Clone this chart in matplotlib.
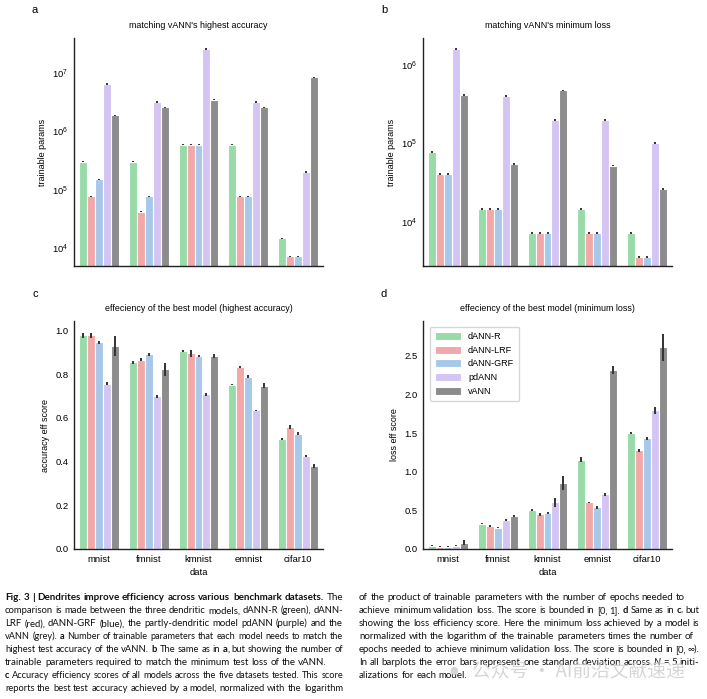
import matplotlib.pyplot as plt
import numpy as np

plt.rcParams["font.family"] = ["Liberation Sans", "DejaVu Sans"]
plt.rcParams["font.size"] = 6.5

datasets = ['mnist', 'fmnist', 'kmnist', 'emnist', 'cifar10']
models = ['dANN-R', 'dANN-LRF', 'dANN-GRF', 'pdANN', 'vANN']
colors = ['#98dba8', '#f2a8a8', '#a8c8ea', '#d4c4f4', '#8c8c8c']

# a: trainable params to match highest accuracy (rows = models, cols = datasets)
params_acc = np.array([
    [3.0e5, 3.0e5, 5.9e5, 5.9e5, 1.47e4],
    [7.7e4, 4.2e4, 5.9e5, 7.7e4, 7.2e3],
    [1.5e5, 7.7e4, 5.9e5, 7.7e4, 7.2e3],
    [6.5e6, 3.2e6, 2.6e7, 3.2e6, 2.0e5],
    [1.9e6, 2.6e6, 3.5e6, 2.6e6, 8.5e6],
])

# b: trainable params to match minimum loss
params_loss = np.array([
    [7.7e4, 1.45e4, 7.2e3, 1.45e4, 7.2e3],
    [4.1e4, 1.45e4, 7.2e3, 7.2e3, 3.6e3],
    [4.1e4, 1.45e4, 7.2e3, 7.2e3, 3.6e3],
    [1.6e6, 4.0e5, 2.0e5, 2.0e5, 1.0e5],
    [4.1e5, 5.4e4, 4.7e5, 5.2e4, 2.6e4],
])

# c: accuracy efficiency score
acc_eff = np.array([
    [0.977, 0.854, 0.904, 0.752, 0.505],
    [0.977, 0.866, 0.895, 0.832, 0.558],
    [0.945, 0.890, 0.883, 0.788, 0.527],
    [0.756, 0.698, 0.707, 0.634, 0.427],
    [0.928, 0.822, 0.883, 0.747, 0.381],
])
acc_eff_err = np.array([
    [0.010, 0.008, 0.005, 0.004, 0.005],
    [0.010, 0.008, 0.015, 0.004, 0.008],
    [0.007, 0.008, 0.006, 0.007, 0.006],
    [0.006, 0.006, 0.008, 0.004, 0.004],
    [0.045, 0.030, 0.007, 0.012, 0.010],
])

# d: loss efficiency score
loss_eff = np.array([
    [0.043, 0.328, 0.500, 1.155, 1.504],
    [0.030, 0.297, 0.448, 0.603, 1.276],
    [0.030, 0.276, 0.461, 0.539, 1.431],
    [0.043, 0.370, 0.603, 0.707, 1.793],
    [0.082, 0.430, 0.849, 2.319, 2.608],
])
loss_eff_err = np.array([
    [0.010, 0.010, 0.012, 0.030, 0.015],
    [0.008, 0.010, 0.015, 0.010, 0.020],
    [0.008, 0.010, 0.012, 0.015, 0.020],
    [0.010, 0.012, 0.060, 0.015, 0.040],
    [0.030, 0.015, 0.090, 0.050, 0.180],
])

W, H = 707, 699
fig = plt.figure(figsize=(W / 100, H / 100), dpi=100)


def px_axes(x0, y0, x1, y1):
    return fig.add_axes([x0 / W, 1 - y1 / H, (x1 - x0) / W, (y1 - y0) / H])


def bars(ax, vals, errs, log=False):
    n = len(models)
    w = 0.8 / n
    x = np.arange(len(datasets))
    for i in range(n):
        xi = x - 0.4 + w * (i + 0.5)
        ax.bar(xi, vals[i], width=w, color=colors[i], edgecolor='white',
               linewidth=0.8, label=models[i], zorder=2)
        ax.errorbar(xi, vals[i], yerr=errs[i], fmt='none', ecolor='#333333',
                    elinewidth=1.4, capsize=0, zorder=3)
    ax.set_xlim(-0.5, len(datasets) - 0.5)
    for s in ['top', 'right']:
        ax.spines[s].set_visible(False)
    for s in ['left', 'bottom']:
        ax.spines[s].set_color('#222222')
        ax.spines[s].set_linewidth(1.0)
    ax.tick_params(length=0, pad=4, labelsize=6.8)
    if log:
        ax.set_yscale('log')
        ax.minorticks_off()


ax_a = px_axes(74, 38, 323, 266)
bars(ax_a, params_acc, params_acc * 0.025, log=True)
ax_a.set_ylim(4900, 4.0e7)
ax_a.set_xticks([])
ax_a.set_title("matching vANN's highest accuracy", fontsize=6.4, pad=7)
ax_a.set_ylabel('trainable params', fontsize=6.5)

ax_b = px_axes(423, 38, 672, 266)
bars(ax_b, params_loss, params_loss * 0.025, log=True)
ax_b.set_ylim(2740, 2.19e6)
ax_b.set_xticks([])
ax_b.set_title("matching vANN's minimum loss", fontsize=6.4, pad=7)
ax_b.set_ylabel('trainable params', fontsize=6.5)

ax_c = px_axes(74, 321, 323, 549)
bars(ax_c, acc_eff, acc_eff_err)
ax_c.set_ylim(0, 1.043)
ax_c.set_xticks(np.arange(len(datasets)), datasets)
ax_c.set_title('effeciency of the best model (highest accuracy)', fontsize=6.4, pad=7)
ax_c.set_ylabel('accuracy eff score', fontsize=6.5)
ax_c.set_xlabel('data', fontsize=6.8, labelpad=3)

ax_d = px_axes(423, 321, 672, 549)
bars(ax_d, loss_eff, loss_eff_err)
ax_d.set_ylim(0, 2.95)
ax_d.set_xticks(np.arange(len(datasets)), datasets)
ax_d.set_title('effeciency of the best model (minimum loss)', fontsize=6.4, pad=7)
ax_d.set_ylabel('loss eff score', fontsize=6.5)
ax_d.set_xlabel('data', fontsize=6.8, labelpad=3)
ax_d.legend(loc='upper left', fontsize=6.5, frameon=True, fancybox=True,
            edgecolor='#cccccc', handlelength=2.8, handleheight=1.0,
            labelspacing=0.5, borderpad=0.6, bbox_to_anchor=(0.01, 0.995))

for lab, x, y in [('a', 35, 10), ('b', 384, 10), ('c', 35, 294), ('d', 384, 294)]:
    fig.text(x / W, 1 - y / H, lab, fontsize=8, va='center', ha='center')

# caption, (text, style) pieces per line; flag = justify the line
cap_left = [
    ([('Fig. 3 | Dendrites improve efficiency across various benchmark datasets.', 'b'), (' The', 'n')], True),
    ([('comparison is made between the three dendritic models, dANN-R (green), dANN-', 'n')], True),
    ([('LRF (red), dANN-GRF (blue), the partly-dendritic model pdANN (purple) and the', 'n')], True),
    ([('vANN (grey). ', 'n'), ('a', 'b'), (' Number of trainable parameters that each model needs to match the', 'n')], True),
    ([('highest test accuracy of the vANN. ', 'n'), ('b', 'b'), (' The same as in ', 'n'), ('a', 'b'), (', but showing the number of', 'n')], True),
    ([('trainable parameters required to match the minimum test loss of the vANN.', 'n')], False),
    ([('c', 'b'), (' Accuracy efficiency scores of all models across the five datasets tested. This score', 'n')], True),
    ([('reports the best test accuracy achieved by a model, normalized with the logarithm', 'n')], True),
]
cap_right = [
    ([('of the product of trainable parameters with the number of epochs needed to', 'n')], False),
    ([('achieve minimum validation loss. The score is bounded in [0, 1]. ', 'n'), ('d', 'b'), (' Same as in ', 'n'), ('c', 'b'), (', but', 'n')], True),
    ([('showing the loss efficiency score. Here the minimum loss achieved by a model is', 'n')], True),
    ([('normalized with the logarithm of the trainable parameters times the number of', 'n')], False),
    ([('epochs needed to achieve minimum validation loss. The score is bounded in [0, \u221e).', 'n')], True),
    ([('In all barplots the error bars represent one standard deviation across ', 'n'), ('N', 'i'), (' = 5 initi-', 'n')], True),
    ([('alizations for each model.', 'n')], False),
]

fig.canvas.draw()
renderer = fig.canvas.get_renderer()
CAP_FS = 7.0


def cap_text(s, style, fs):
    return fig.text(0, 0, s, fontsize=fs, va='baseline', ha='left',
                    family=['Lato', 'DejaVu Sans'],
                    fontweight='bold' if style == 'b' else 'normal',
                    fontstyle='italic' if style == 'i' else 'normal',
                    color='#111111')


def width(t):
    return t.get_window_extent(renderer).width


def draw_caption(lines, x0, y0, dy, target):
    for k, (segs, justify) in enumerate(lines):
        words, cur = [], []
        for txt, style in segs:
            parts = txt.split(' ')
            for j, p in enumerate(parts):
                if j > 0 and cur:
                    words.append(cur)
                    cur = []
                if p:
                    cur.append((p, style))
        if cur:
            words.append(cur)

        def layout(fs):
            placed, total = [], 0
            for wd in words:
                items = []
                for p, style in wd:
                    t = cap_text(p, style, fs)
                    wp = width(t)
                    items.append((t, wp))
                    total += wp
                placed.append(items)
            t1, t2 = cap_text('x x', 'n', fs), cap_text('xx', 'n', fs)
            sw = width(t1) - width(t2)
            t1.remove()
            t2.remove()
            return placed, total, sw

        placed, total, sw = layout(CAP_FS)
        gaps = len(placed) - 1
        natural = total + gaps * sw
        fs = CAP_FS
        if justify:
            fs = CAP_FS * min(1.06, target / natural)
        elif natural > target:
            fs = CAP_FS * target / natural
        if fs != CAP_FS:
            for items in placed:
                for t, _ in items:
                    t.remove()
            placed, total, sw = layout(fs)
            natural = total + gaps * sw
        gap = sw
        if justify and gaps > 0 and natural < target:
            gap = sw + (target - natural) / gaps
        x = x0
        y = 1 - (y0 + k * dy + 3) / H
        for items in placed:
            for t, wp in items:
                t.set_position((x / W, y))
                x += wp
            x += gap


draw_caption(cap_left, 5, 597.5, 12.95, 338)
draw_caption(cap_right, 359, 597, 12.95, 340)

fig.text(448 / W, 1 - 671 / H, '\u25cf', fontsize=13, color='#d5d5d5', va='center', ha='left')
fig.text(472 / W, 1 - 671 / H, '公众号 · AI前沿文献速递', fontsize=13.5, color='#cccccc',
         alpha=0.8, va='center', ha='left', family=['Noto Sans CJK SC', 'DejaVu Sans'])

fig.savefig('out.png', dpi=100)
